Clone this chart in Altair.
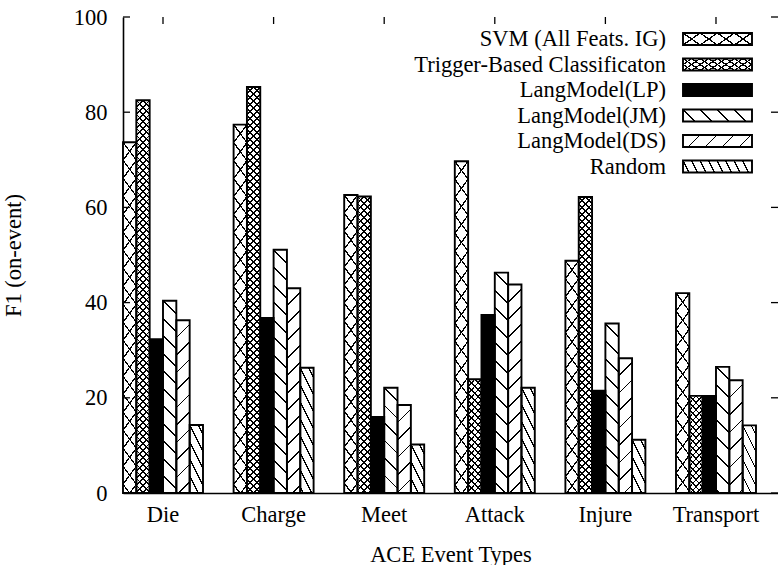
import math
import altair as alt
import pandas as pd

# ---------------- data ----------------
categories = ["Die", "Charge", "Meet", "Attack", "Injure", "Transport"]
series = ["SVM (All Feats. IG)", "Trigger-Based Classificaton", "LangModel(LP)",
          "LangModel(JM)", "LangModel(DS)", "Random"]
svm = [73.7, 77.4, 62.6, 69.7, 48.8, 42.0]
trigger = [82.5, 85.3, 62.3, 23.9, 62.2, 20.4]
lp = [32.3, 36.8, 16.0, 37.4, 21.5, 20.4]
jm = [40.4, 51.1, 22.1, 46.3, 35.6, 26.5]
ds = [36.3, 43.0, 18.5, 43.8, 28.3, 23.7]
rnd = [14.3, 26.3, 10.2, 22.1, 11.2, 14.2]
y_ticks = [0, 20, 40, 60, 80, 100]
x_title = "ACE Event Types"
y_title = "F1 (on-event)"

series_values = [svm, trigger, lp, jm, ds, rnd]
rows = []
for s, vals in zip(series, series_values):
    for c, v in zip(categories, vals):
        rows.append({"cat": c, "ser": s, "v": v})
df = pd.DataFrame(rows)

# ---------------- layout / style ----------------
W, H = 655, 476
PAD = {"left": 123, "top": 17, "right": 0, "bottom": 72}
FONT = "Liberation Serif"
FS = 22.5
P_INNER, P_OUTER = 0.2767, 0.0995
step = W / (len(categories) - P_INNER + 2 * P_OUTER)
bar_w = step * (1 - P_INNER) / len(series)
Y_MAX = 100
STROKE_W = 1.9
HATCH_W = 1.25

# hatch families: (slope in px, vertical period in px); slope>0 = "\"
bar_patterns = [
    [(1.35, 18.0), (-1.35, 18.0)],
    [(1.05, 7.0), (-1.05, 7.0)],
    "solid",
    [(1.0, 17.5)],
    [(-1.0, 17.5)],
    [(2.0, 17.0)],
]
legend_patterns = [
    [(0.7, 12.0), (-0.7, 12.0)],
    [(0.7, 6.0), (-0.7, 6.0)],
    "solid",
    [(1.0, 17.0)],
    [(-1.0, 17.0)],
    [(2.0, 17.0)],
]

# legend layout (px, relative to plot area)
LEG_TEXT_X = 543
LEG_KEY_X0, LEG_KEY_X1 = 560, 629
LEG_Y0, LEG_DY, LEG_KEY_H = 22, 25.5, 12


def stripe_gradient(w, h, slope, period, bg, fg="black", lw=HATCH_W):
    """Linear gradient (object bbox units) giving stripes y - slope*x = k*period."""
    A = -slope * w / period
    B = h / period
    corners = [(0.0, 0.0, 0.0), (1.0, 0.0, A), (0.0, 1.0, B), (1.0, 1.0, A + B)]
    u0, v0, fmin = min(corners, key=lambda c: c[2])
    fmax = max(c[2] for c in corners)
    R = fmax - fmin
    n2 = A * A + B * B
    gx, gy = R * A / n2, R * B / n2
    dt = (lw / 2.0) * math.sqrt(1 + slope ** 2) / period / R
    stops = [alt.GradientStop(offset=0, color=bg)]
    for k in range(math.floor(fmin) - 1, math.ceil(fmax) + 2):
        t = (k - fmin) / R
        a, b = t - dt, t + dt
        if b < 0 or a > 1:
            continue
        a, b = max(0.0, a), min(1.0, b)
        stops += [alt.GradientStop(offset=round(a, 5), color=bg),
                  alt.GradientStop(offset=round(a, 5), color=fg),
                  alt.GradientStop(offset=round(b, 5), color=fg),
                  alt.GradientStop(offset=round(b, 5), color=bg)]
    stops.append(alt.GradientStop(offset=1, color=bg))
    return alt.LinearGradient(gradient="linear", stops=stops,
                              x1=round(u0, 5), y1=round(v0, 5),
                              x2=round(u0 + gx, 5), y2=round(v0 + gy, 5))


def fills_for(pattern, w, h):
    if pattern == "solid":
        return ["black"]
    out = []
    for i, (sl, per) in enumerate(pattern):
        bg = "white" if i == 0 else "rgba(255,255,255,0)"
        out.append(stripe_gradient(w, h, sl, per, bg))
    return out


# ---------------- scales / axes ----------------
xscale = alt.Scale(type="band", domain=categories, paddingInner=P_INNER,
                   paddingOuter=P_OUTER, align=0)
xoscale = alt.Scale(type="band", domain=series, paddingInner=0, paddingOuter=0)
yscale = alt.Scale(domain=[0, Y_MAX], nice=False, zero=True)
xaxis = alt.Axis(title=x_title, labelAngle=0, labelPadding=10, ticks=False,
                 grid=False, titleY=68, titleBaseline="alphabetic")
yaxis = alt.Axis(title=y_title, values=y_ticks, labelPadding=16, ticks=False,
                 grid=False, titleX=-103, titleY=H / 2, titleBaseline="alphabetic",
                 titleAngle=270)

X = alt.X("cat:N", scale=xscale, axis=xaxis)
XO = alt.XOffset("ser:N", scale=xoscale)
Y = alt.Y("v:Q", scale=yscale, axis=yaxis)

layers = []
# hatched fills, one layer per bar
for si, s in enumerate(series):
    for ci, c in enumerate(categories):
        v = series_values[si][ci]
        h = v / Y_MAX * H
        sub = df[(df.ser == s) & (df.cat == c)]
        for f in fills_for(bar_patterns[si], bar_w, h):
            layers.append(alt.Chart(sub).mark_bar(fill=f, strokeWidth=0)
                          .encode(x=X, xOffset=XO, y=Y))
# outlines
layers.append(alt.Chart(df).mark_bar(filled=False, stroke="black",
                                     strokeWidth=STROKE_W)
              .encode(x=X, xOffset=XO, y=Y))

# inward ticks (left, right) and top category ticks
tick_df = pd.DataFrame({"v": y_ticks})
layers.append(alt.Chart(tick_df).mark_rule(color="black", strokeWidth=1.3)
              .encode(y=Y, x=alt.value(0), x2=alt.value(7)))
layers.append(alt.Chart(tick_df).mark_rule(color="black", strokeWidth=1.3)
              .encode(y=Y, x=alt.value(W - 7), x2=alt.value(W)))
cat_df = pd.DataFrame({"cat": categories})
layers.append(alt.Chart(cat_df).mark_rule(color="black", strokeWidth=1.3)
              .encode(x=X, y=alt.value(0), y2=alt.value(7)))

# legend
for i, s in enumerate(series):
    cy = LEG_Y0 + i * LEG_DY
    one = pd.DataFrame({"label": [s]})
    layers.append(alt.Chart(one).mark_text(align="right", baseline="middle",
                                           font=FONT, fontSize=FS, color="black")
                  .encode(text="label:N", x=alt.value(LEG_TEXT_X), y=alt.value(cy)))
    for f in fills_for(legend_patterns[i], LEG_KEY_X1 - LEG_KEY_X0, LEG_KEY_H):
        layers.append(alt.Chart(one).mark_rect(fill=f, strokeWidth=0)
                      .encode(x=alt.value(LEG_KEY_X0), x2=alt.value(LEG_KEY_X1),
                              y=alt.value(cy - LEG_KEY_H / 2),
                              y2=alt.value(cy + LEG_KEY_H / 2)))
    layers.append(alt.Chart(one).mark_rect(filled=False, stroke="black",
                                           strokeWidth=STROKE_W)
                  .encode(x=alt.value(LEG_KEY_X0), x2=alt.value(LEG_KEY_X1),
                          y=alt.value(cy - LEG_KEY_H / 2),
                          y2=alt.value(cy + LEG_KEY_H / 2)))

chart = alt.layer(*layers).properties(
    width=W, height=H,
    autosize=alt.AutoSizeParams(type="none"),
    padding=PAD,
).configure_view(stroke=None).configure_axis(
    labelFont=FONT, labelFontSize=FS, labelColor="black",
    titleFont=FONT, titleFontSize=FS, titleColor="black", titleFontWeight="normal",
    domainColor="black", domainWidth=1.6,
)

chart.save("out.html", embed_options={"renderer": "svg", "actions": False})
